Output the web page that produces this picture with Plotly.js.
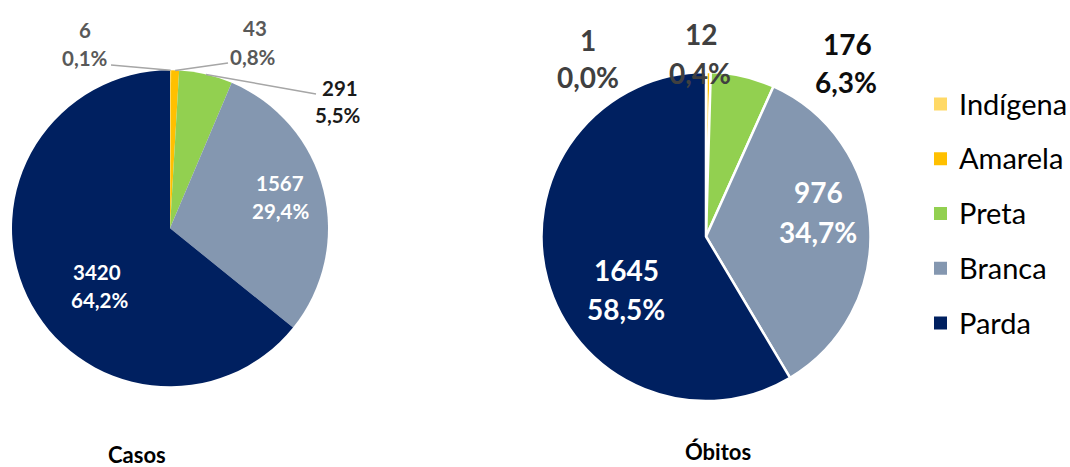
<!DOCTYPE html>
<html>
<head>
<meta charset="utf-8">
<script src="https://cdn.plot.ly/plotly-3.0.1.min.js"></script>
<style>
html,body{margin:0;padding:0;background:#fff;}
#chart{width:1070px;height:467px;}
</style>
</head>
<body>
<div id="chart"></div>
<script>
// ---- data ----
const categories = ["Indígena", "Amarela", "Preta", "Branca", "Parda"];
const casosValues = [6, 43, 291, 1567, 3420];
const obitosValues = [1, 12, 176, 976, 1645];
const colors = ["#FFD966", "#FFC000", "#92D050", "#8497B0", "#002060"];
const panelTitles = ["Casos", "Óbitos"];

// ---- helpers ----
const W = 1070, H = 467;
const px = x => x / W;
const py = y => 1 - y / H;
const FONT = "Lato, 'Open Sans', sans-serif";

function pctText(vals) {
  const t = vals.reduce((a, b) => a + b, 0);
  return vals.map(v => (v / t * 100).toFixed(1).replace('.', ',') + '%');
}

// pie geometry (pixels)
const pies = [
  {cx: 170, cy: 228.3, r: 158, values: casosValues, lineW: 0, size: 20.5,
   valPos: [[85, 30], [255, 28], [340, 88], [280, 183], [97, 272]],
   pctPos: [[85, 58], [253, 57], [338, 115], [280, 211], [99, 300]],
   txtCol: ["#595959", "#595959", "#1a1a1a", "#ffffff", "#ffffff"],
   title: [137, 454], titleSize: 22},
  {cx: 706, cy: 236.5, r: 164.5, values: obitosValues, lineW: 2.5, size: 28,
   valPos: [[588, 40], [701, 34], [847, 44], [818, 192], [626, 270]],
   pctPos: [[588, 77], [700, 73], [846, 82], [818, 232], [626, 309]],
   txtCol: ["#404040", "#404040", "#0d0d0d", "#ffffff", "#ffffff"],
   title: [718, 451], titleSize: 22}
];

const traces = [];
const annotations = [];
const shapes = [];

pies.forEach((p, k) => {
  traces.push({
    type: 'pie',
    labels: categories,
    values: p.values,
    sort: false,
    direction: 'clockwise',
    rotation: 0,
    marker: {colors: colors, line: {color: '#ffffff', width: p.lineW}},
    textinfo: 'none',
    hoverinfo: 'label+value+percent',
    showlegend: false,
    domain: {x: [px(p.cx - p.r), px(p.cx + p.r)], y: [py(p.cy + p.r), py(p.cy - p.r)]}
  });
  const pcts = pctText(p.values);
  p.values.forEach((v, i) => {
    annotations.push({xref: 'paper', yref: 'paper', x: px(p.valPos[i][0]), y: py(p.valPos[i][1]),
      text: '<b>' + v + '</b>', showarrow: false, xanchor: 'center', yanchor: 'middle',
      font: {family: FONT, size: p.size, color: p.txtCol[i]}});
    annotations.push({xref: 'paper', yref: 'paper', x: px(p.pctPos[i][0]), y: py(p.pctPos[i][1]),
      text: '<b>' + pcts[i] + '</b>', showarrow: false, xanchor: 'center', yanchor: 'middle',
      font: {family: FONT, size: p.size, color: p.txtCol[i]}});
  });
  annotations.push({xref: 'paper', yref: 'paper', x: px(p.title[0]), y: py(p.title[1]),
    text: '<b>' + panelTitles[k] + '</b>', showarrow: false, xanchor: 'center', yanchor: 'middle',
    font: {family: FONT, size: p.titleSize, color: '#000'}});
});

// leader lines for the small slices of the left pie (from slice mid-angle on the rim to the label)
(function () {
  const p = pies[0];
  const total = p.values.reduce((a, b) => a + b, 0);
  const ends = [[111, 65], [228, 63], [316, 94]];
  let cum = 0;
  for (let i = 0; i < 3; i++) {
    const mid = (cum + p.values[i] / 2) / total * 2 * Math.PI;
    cum += p.values[i];
    const x0 = p.cx + p.r * Math.sin(mid), y0 = p.cy - p.r * Math.cos(mid);
    shapes.push({type: 'line', xref: 'paper', yref: 'paper',
      x0: px(x0), y0: py(y0), x1: px(ends[i][0]), y1: py(ends[i][1]),
      line: {color: '#A6A6A6', width: 1.5}});
  }
})();

// legend
categories.forEach((c, i) => {
  const yc = 104 + i * 54.75;
  shapes.push({type: 'rect', xref: 'paper', yref: 'paper',
    x0: px(934), x1: px(947), y0: py(yc + 6.5), y1: py(yc - 6.5),
    fillcolor: colors[i], line: {width: 0}});
  annotations.push({xref: 'paper', yref: 'paper', x: px(957), y: py(yc - 1),
    text: c, showarrow: false, xanchor: 'left', yanchor: 'middle',
    font: {family: FONT, size: 29, color: '#000'}});
});

const layout = {
  width: W, height: H,
  margin: {l: 0, r: 0, t: 0, b: 0},
  paper_bgcolor: '#ffffff',
  plot_bgcolor: '#ffffff',
  separators: ',.',
  showlegend: false,
  annotations: annotations,
  shapes: shapes,
  font: {family: FONT}
};

Plotly.newPlot('chart', traces, layout, {displayModeBar: false, staticPlot: true});
</script>
</body>
</html>
